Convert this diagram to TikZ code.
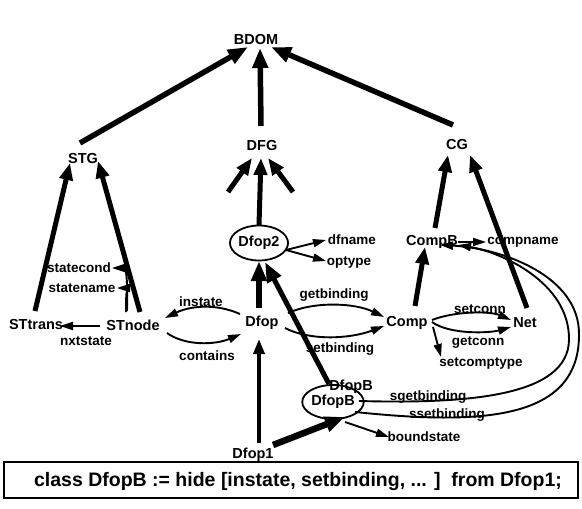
\documentclass[tikz,border=0pt]{standalone}
\usepackage{fontspec}
\setmainfont{Liberation Sans}
\usetikzlibrary{arrows.meta,shapes.geometric,calc}
\begin{document}
\begin{tikzpicture}[x=1pt,y=-1pt,
  cls/.style={inner sep=1pt, font=\fontsize{14.5}{16}\selectfont\bfseries},
  attr/.style={inner sep=1pt, font=\fontsize{13.5}{15}\selectfont\bfseries},
  obj/.style={ellipse, draw, line width=1.8pt, inner sep=0pt,
    minimum width=52pt, minimum height=35pt,
    font=\fontsize{14.5}{16}\selectfont\bfseries},
  heavy/.style={line width=5.5pt, -{Triangle[length=20pt,width=15pt]}},
  isa/.style={line width=5pt, -{Triangle[length=17pt,width=13pt]}},
  medium/.style={line width=3.5pt, -{Triangle[length=15pt,width=11pt]}},
  thin/.style={line width=1.9pt, -{Triangle[length=13pt,width=8pt]}}]
\useasboundingbox (0,0) rectangle (582,509);

% class hierarchy
\node[cls] (BDOM) at (256,40) {BDOM};
\node[cls] (STG) at (83,159) {STG};
\node[cls] (DFG) at (262,146) {DFG};
\node[cls] (CG) at (457,145) {CG};

% state graph objects
\node[cls] (STtrans) at (36,325) {STtrans};
\node[cls] (STnode) at (133,325) {STnode};
\node[attr] (statecond) at (79,268) {statecond};
\node[attr] (statename) at (82,288) {statename};
\node[attr] (nxtstate) at (86,341) {nxtstate};

% data flow objects
\node[obj] (Dfop2) at (259,243) {Dfop2};
\node[attr] (dfname) at (352,240) {dfname};
\node[attr] (optype) at (349,262) {optype};
\node[cls] (Dfop) at (262,323) {Dfop};
\node[attr] (instate) at (201,302) {instate};
\node[attr] (contains) at (207,356) {contains};
\node[attr] (getbinding) at (334,295) {getbinding};
\node[attr] (setbinding) at (340,349) {setbinding};
\node[obj, minimum height=34pt] (DfopB) at (333,402) {DfopB};
\node[cls] (DfopBname) at (351,387) {DfopB};
\node[attr] (sgetbinding) at (428,397) {sgetbinding};
\node[attr] (ssetbinding) at (447,415) {ssetbinding};
\node[attr] (boundstate) at (424,437) {boundstate};
\node[cls] (Dfop1) at (253,455) {Dfop1};

% connectivity graph objects
\node[cls] (CompB) at (432,242) {CompB};
\node[attr] (compname) at (523,242) {compname};
\node[cls] (Comp) at (407,323) {Comp};
\node[cls] (Net) at (525,323) {Net};
\node[attr] (setconn) at (480,309) {setconn};
\node[attr] (getconn) at (478,343) {getconn};
\node[attr] (setcomptype) at (481,363) {setcomptype};

% free tails of the short arrows into DFG
\coordinate (dfgL) at (228,192);
\coordinate (dfgR) at (293,192);

% inheritance arrows
\draw[heavy] ($(STG)+(-3,-16)$) -- ($(BDOM)+(-8,7)$);
\draw[heavy] ($(DFG)+(-1,-20)$) -- ($(BDOM)+(4,8)$);
\draw[heavy] ($(CG)+(-4,-20)$) -- ($(BDOM)+(15,7)$);
\draw[isa] ($(STtrans)+(-1,-14)$) -- ($(STG)+(-13,4)$);
\draw[isa] ($(STnode)+(7,-13)$) -- ($(STG)+(15,2)$);
\draw[isa] (dfgL) -- ($(DFG)+(-10,12)$);
\draw[isa] ($(Dfop2)+(0,-18)$) -- ($(DFG)+(-1,12)$);
\draw[isa] (dfgR) -- ($(DFG)+(6,12)$);
\draw[isa] ($(CompB)+(3,-14)$) -- ($(CG)+(-9,10)$);
\draw[isa] ($(Net)+(2,-15)$) -- ($(CG)+(13,10)$);
\draw[heavy] ($(Dfop)+(-3,-15)$) -- ($(Dfop2)+(0,18)$);
\draw[isa] ($(Comp)+(8,-17)$) -- ($(CompB)+(-7,5)$);

% attribute and method arrows
\draw[thin] ($(Dfop2)+(27,7)$) -- ($(dfname)+(-26,0)$);
\draw[thin] ($(Dfop2)+(27,7)$) -- ($(optype)+(-23,-1)$);
\draw[thin] ($(CompB)+(26,0)$) -- ($(compname)+(-37,0)$);
\draw[thin] ($(STnode)+(-33,1)$) -- ($(STtrans)+(24,1)$);
\draw[thin] ($(STnode)+(-6,-14)$) .. controls (128,282) and (126,268) .. ($(statecond)+(33,0)$);
\draw[thin] ($(STnode)+(-7,-13)$) .. controls (126,296) and (126,288) .. ($(statename)+(35,0)$);
\draw[thin] ($(Dfop)+(-22,-9)$) .. controls (215,303) and (190,306) .. ($(STnode)+(32,-7)$);
\draw[thin] ($(STnode)+(34,8)$) .. controls (185,346) and (215,345) .. ($(Dfop)+(-21,11)$);
\draw[thin] ($(Dfop)+(26,-10)$) .. controls (315,301) and (355,303) .. ($(Comp)+(-23,-6)$);
\draw[thin] ($(Dfop)+(23,5)$) .. controls (310,341) and (350,339) .. ($(Comp)+(-23,3)$);
\draw[thin] ($(Comp)+(25,-3)$) .. controls (455,311) and (490,311) .. ($(Net)+(-14,-3)$);
\draw[thin] ($(Comp)+(25,-1)$) .. controls (450,335) and (490,333) .. ($(Net)+(-14,4)$);
\draw[thin] ($(Comp)+(26,4)$) -- ($(setcomptype)+(-40,-6)$);
\draw[thin] ($(DfopB)+(12,20)$) -- ($(boundstate)+(-35,0)$);

% bindings of DfopB methods back to CompB
\draw[thin] ($(DfopB)+(26,-1)$) .. controls (470,404) and (568,396) .. (569,340)
  .. controls (570,282) and (500,252) .. ($(CompB)+(26,3)$);
\draw[thin] ($(DfopB)+(22,10)$) .. controls (480,425) and (579,421) .. (579,335)
  .. controls (580,275) and (500,248) .. ($(CompB)+(8,3)$);

% instance arrows from Dfop1
\draw[medium] ($(Dfop1)+(6,-12)$) -- ($(Dfop)+(-3,16)$);
\draw[heavy, line width=6.5pt] ($(Dfop1)+(20,-10)$) -- ($(DfopB)+(12,15)$);
\draw[heavy, line width=5pt] ($(DfopB)+(-4,-18)$) -- ($(Dfop2)+(6,19)$);

% declaration box and its text
\node[draw, line width=2.5pt, minimum width=574pt, minimum height=36pt, inner sep=0pt]
  (declbox) at (291,480) {};
\node[inner sep=0pt, font=\fontsize{19.5}{22}\selectfont\bfseries] (decl) at (298,481)
  {class DfopB := hide [instate, setbinding, ... ]\ \ from Dfop1;};
\end{tikzpicture}
\end{document}
